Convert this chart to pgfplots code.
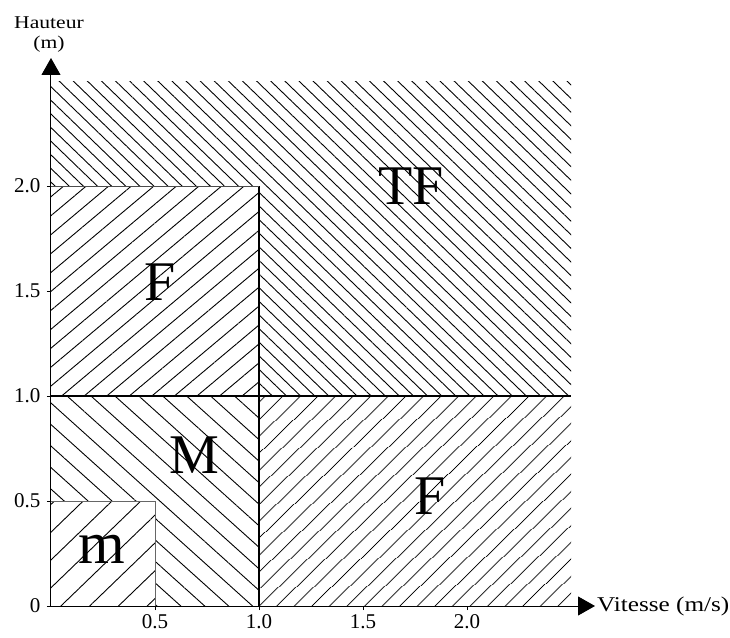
\documentclass[border=0pt]{standalone}
\usepackage{fontspec}
\setmainfont{Liberation Serif}
\usepackage{pgfplots}
\pgfplotsset{compat=1.18}
\usetikzlibrary{patterns.meta,arrows.meta}
\begin{document}
\begin{tikzpicture}
\useasboundingbox (-51pt,-31pt) rectangle (679pt,606pt);
\begin{axis}[
  scale only axis,
  width=544pt, height=548pt,
  xmin=0, xmax=2.615, ymin=0, ymax=2.61,
  axis lines=left,
  axis line style={-{Triangle[length=17pt,width=19pt]}, line width=1pt},
  clip=false,
  xtick={0.5,1,1.5,2}, xticklabels={0.5,1.0,1.5,2.0},
  ytick={0,0.5,1,1.5,2}, yticklabels={0,0.5,1.0,1.5,2.0},
  tick align=outside, major tick length=4pt,
  tick style={black, line width=0.8pt},
  /pgf/number format/assume math mode=true,
  ticklabel style={font=\fontsize{21}{21}\selectfont},
  xticklabel style={yshift=-1pt},
  yticklabel style={xshift=-3pt},
]
% TF
\addplot[draw=none, forget plot, pattern={Lines[angle=-44,distance=9.8pt,line width=0.9pt]}]
  coordinates {(0,2) (0,2.5) (2.5,2.5) (2.5,1) (1,1) (1,2)};
% upper F
\addplot[draw=none, forget plot, pattern={Lines[angle=40,distance=14.5pt,line width=0.9pt]}]
  coordinates {(0,1) (0,2) (1,2) (1,1)};
% lower F
\addplot[draw=none, forget plot, pattern={Lines[angle=44,distance=13pt,line width=0.9pt]}]
  coordinates {(1,0) (1,1) (2.5,1) (2.5,0)};
% M
\addplot[draw=none, forget plot, pattern={Lines[angle=-42,distance=16pt,line width=0.9pt]}]
  coordinates {(0,0.5) (0,1) (1,1) (1,0) (0.5,0) (0.5,0.5)};
% m
\addplot[draw=none, forget plot, pattern={Lines[angle=44,distance=20pt,line width=0.9pt]}]
  coordinates {(0,0) (0,0.5) (0.5,0.5) (0.5,0)};
% boundaries
\addplot[black, line width=1.1pt, forget plot] coordinates {(0,1) (2.5,1)};
\addplot[black, line width=1.1pt, forget plot] coordinates {(1,0) (1,2)};
\addplot[black!70, line width=0.8pt, forget plot] coordinates {(0,2) (1,2)};
\addplot[black!60, line width=0.8pt, forget plot] coordinates {(0,0.5) (0.5,0.5) (0.5,0)};
% region labels
\node[font=\fontsize{56}{56}\selectfont, inner sep=0pt] at (axis cs:1.73,2.0) {TF};
\node[font=\fontsize{56}{56}\selectfont, inner sep=0pt] at (axis cs:0.524,1.54) {F};
\node[font=\fontsize{56}{56}\selectfont, inner sep=0pt] at (axis cs:1.82,0.524) {F};
\node[font=\fontsize{56}{56}\selectfont, inner sep=0pt] at (axis cs:0.69,0.72) {M};
\node[font=\fontsize{60}{60}\selectfont, inner sep=0pt] at (axis cs:0.245,0.27) {m};
% axis labels
\node[anchor=south, align=center, inner sep=0pt, yshift=5pt, xshift=-2pt,
      font=\fontsize{18}{20}\selectfont] at (axis cs:0,2.61)
      {\scalebox{1.2}[1]{Hauteur}\\\scalebox{1.2}[1]{(m)}};
\node[anchor=west, inner sep=0pt, xshift=2pt, font=\fontsize{21}{21}\selectfont]
      at (axis cs:2.615,0) {\scalebox{1.2}[1]{Vitesse (m/s)}};
\end{axis}
\end{tikzpicture}
\end{document}
